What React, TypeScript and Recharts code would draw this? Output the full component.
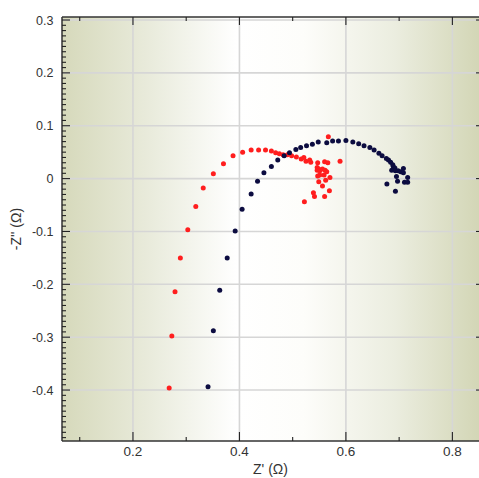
import React from 'react';
import { ScatterChart, Scatter, XAxis, YAxis, CartesianGrid, ReferenceLine } from 'recharts';

// Red series: Z' and -Z'' (Ohm)
const redZre = [0.268, 0.273, 0.279, 0.289, 0.303, 0.318, 0.332, 0.351, 0.370, 0.388,
  0.406, 0.422, 0.436, 0.449, 0.460, 0.468, 0.475, 0.482, 0.490, 0.498,
  0.507, 0.516, 0.521, 0.525, 0.532, 0.534, 0.547, 0.560, 0.566, 0.567,
  0.589, 0.546, 0.549, 0.546, 0.551, 0.556, 0.561, 0.564, 0.559, 0.551,
  0.562, 0.570, 0.549, 0.556, 0.569, 0.539, 0.541, 0.560, 0.522, 0.547];
const redZim = [-0.396, -0.298, -0.214, -0.150, -0.097, -0.053, -0.018, 0.009, 0.028, 0.043,
  0.050, 0.054, 0.054, 0.054, 0.052, 0.049, 0.047, 0.045, 0.045, 0.043,
  0.041, 0.037, 0.040, 0.033, 0.035, 0.031, 0.030, 0.032, 0.030, 0.079,
  0.033, 0.021, 0.018, 0.016, 0.015, 0.018, 0.016, 0.013, 0.007, 0.007,
  -0.003, 0.002, -0.006, -0.014, -0.023, -0.027, -0.034, -0.034, -0.044, 0.005];

// Navy series
const navyZre = [0.341, 0.351, 0.363, 0.377, 0.392, 0.405, 0.422, 0.434, 0.446, 0.460,
  0.472, 0.484, 0.494, 0.506, 0.515, 0.526, 0.537, 0.548, 0.564, 0.575,
  0.586, 0.600, 0.613, 0.624, 0.634, 0.645, 0.653, 0.662, 0.668, 0.676,
  0.680, 0.684, 0.688, 0.689, 0.692, 0.686, 0.693, 0.698, 0.703, 0.708,
  0.708, 0.695, 0.697, 0.710, 0.716, 0.716, 0.677, 0.693];
const navyZim = [-0.394, -0.288, -0.211, -0.150, -0.099, -0.058, -0.029, -0.005, 0.011, 0.023,
  0.035, 0.043, 0.049, 0.055, 0.059, 0.062, 0.065, 0.069, 0.068, 0.071,
  0.071, 0.072, 0.069, 0.066, 0.062, 0.059, 0.054, 0.048, 0.043, 0.038,
  0.035, 0.031, 0.026, 0.023, 0.020, 0.016, 0.015, 0.015, 0.013, 0.011,
  0.019, 0.004, -0.005, -0.007, -0.007, 0.002, -0.010, -0.024];

const xMajorTicks = [0.2, 0.4, 0.6, 0.8];
const xAllTicks = [0.1, 0.2, 0.3, 0.4, 0.5, 0.6, 0.7, 0.8];
const yMajorTicks = [-0.4, -0.3, -0.2, -0.1, 0, 0.1, 0.2, 0.3];
const yAllTicks: number[] = [];
for (let i = -49; i <= 30; i++) yAllTicks.push(i / 100);

const X_DOMAIN: [number, number] = [0.0667, 0.85];
const Y_DOMAIN: [number, number] = [-0.4964, 0.3057];

const redData = redZre.map((x, i) => ({ x, y: redZim[i] }));
const navyData = navyZre.map((x, i) => ({ x, y: navyZim[i] }));

const W = 479;
const H = 478;
const PLOT_TOP = 17;
const FONT = "'Liberation Sans', Arial, sans-serif";
const AXIS = '#333333';
const TICK = '#222222';
const GRID = '#d6d6d6';
const Y_MARGIN = 8;
const X_MARGIN = 8;

const isMajor = (v: number) => Math.abs(v * 10 - Math.round(v * 10)) < 1e-6;
const fmt = (v: number) => String(Number(v.toFixed(1)));

const LeftTick = (props: any) => {
  const { x, y, payload } = props;
  const v = payload.value as number;
  const major = isMajor(v);
  const ax = x + Y_MARGIN;
  return (
    <g>
      <line x1={ax} x2={ax + (major ? 8 : 4)} y1={y} y2={y} stroke={TICK} strokeWidth={1.1} />
      {major && <line x1={W} x2={W - 3} y1={y} y2={y} stroke={TICK} strokeWidth={1.1} />}
      {major && (
        <text x={x - 0.5} y={y} dy="0.36em" textAnchor="end" fill={AXIS} fontSize={12.5} fontFamily={FONT}>
          {fmt(v)}
        </text>
      )}
    </g>
  );
};

const BottomTick = (props: any) => {
  const { x, y, payload } = props;
  const v = payload.value as number;
  const major = Math.abs(v * 5 - Math.round(v * 5)) < 1e-6;
  const ay = y - X_MARGIN;
  return (
    <g>
      <line x1={x} x2={x} y1={ay} y2={ay - (major ? 9 : 4)} stroke={TICK} strokeWidth={1.1} />
      <line x1={x} x2={x} y1={PLOT_TOP} y2={PLOT_TOP + (major ? 8 : 4)} stroke={TICK} strokeWidth={1.1} />
      {major && (
        <text x={x} y={ay + 15} textAnchor="middle" fill={AXIS} fontSize={13.5} fontFamily={FONT}>
          {fmt(v)}
        </text>
      )}
    </g>
  );
};

const dot = (color: string) => (props: any) =>
  <circle cx={props.cx} cy={props.cy} r={2.5} fill={color} />;

export default function App() {
  return (
    <div style={{ position: 'absolute', left: 0, top: 0, background: '#fff' }}>
      <ScatterChart width={W} height={H} margin={{ top: PLOT_TOP, right: 0, bottom: 0, left: 0 }}>
        <defs>
          <linearGradient id="bgGrad" x1="0" y1="0" x2="1" y2="0">
            <stop offset="0%" stopColor="#d6d9bb" />
            <stop offset="20%" stopColor="#e8eada" />
            <stop offset="42%" stopColor="#ffffff" />
            <stop offset="58%" stopColor="#fdfdfa" />
            <stop offset="80%" stopColor="#ebeddf" />
            <stop offset="100%" stopColor="#d3d6b6" />
          </linearGradient>
        </defs>
        <CartesianGrid fill="url(#bgGrad)" fillOpacity={1} horizontal={false} vertical={false} />
        {xMajorTicks.map((t) => (
          <ReferenceLine key={'gx' + t} x={t} stroke={GRID} strokeWidth={1.6} />
        ))}
        {yMajorTicks.map((t) => (
          <ReferenceLine key={'gy' + t} y={t} stroke={GRID} strokeWidth={1.6} />
        ))}
        <ReferenceLine y={Y_DOMAIN[1]} stroke={AXIS} strokeWidth={1.5} />
        <XAxis type="number" dataKey="x" domain={X_DOMAIN} ticks={xAllTicks} allowDataOverflow
          interval={0} height={37} tickSize={0} tickLine={false} tickMargin={X_MARGIN}
          stroke={AXIS} strokeWidth={1.5} tick={<BottomTick />}
          label={{ value: "Z' (Ω)", position: 'insideBottom', offset: 4, fill: AXIS, fontSize: 14, fontFamily: FONT }} />
        <YAxis type="number" dataKey="y" domain={Y_DOMAIN} ticks={yAllTicks} allowDataOverflow
          interval={0} width={62} tickSize={0} tickLine={false} tickMargin={Y_MARGIN}
          stroke={AXIS} strokeWidth={1.5} tick={<LeftTick />}
          label={{ value: "-Z'' (Ω)", angle: -90, position: 'insideLeft', offset: 16, fill: AXIS, fontSize: 14, fontFamily: FONT, style: { textAnchor: 'middle' } }} />
        <Scatter name="red" data={redData} fill="#ff1e1e" shape={dot('#ff1e1e')} isAnimationActive={false} />
        <Scatter name="navy" data={navyData} fill="#0c0c40" shape={dot('#0c0c40')} isAnimationActive={false} />
      </ScatterChart>
    </div>
  );
}
